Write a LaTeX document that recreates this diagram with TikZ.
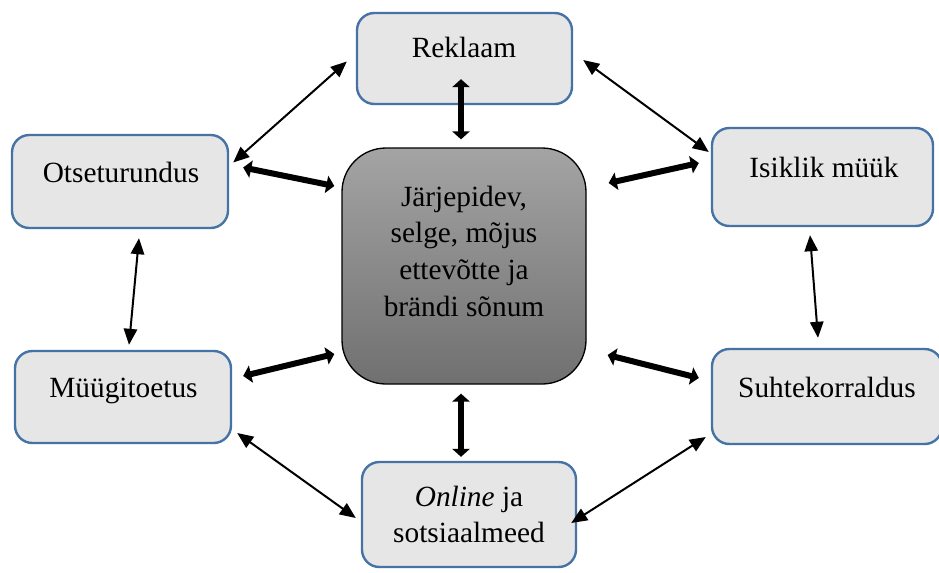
\documentclass[tikz,border=0pt]{standalone}
\usepackage{fontspec}
\setmainfont{Liberation Serif}
\usetikzlibrary{arrows.meta,calc}
\definecolor{boxfill}{RGB}{230,230,230}
\definecolor{boxline}{RGB}{70,115,165}
\definecolor{midtop}{RGB}{164,164,164}
\definecolor{midbot}{RGB}{112,112,112}
\tikzset{
  box/.style={draw=boxline, fill=boxfill, line width=1.8pt, rounded corners=13pt, inner sep=0pt},
  lbl/.style={font=\fontsize{22}{27.5}\selectfont, align=center, inner sep=0pt},
  thinarrow/.style={line width=1.5pt, {Triangle[length=12pt,width=10pt]}-{Triangle[length=12pt,width=10pt]}},
  fatarrow/.style={line width=4.5pt, {Triangle[length=6pt,width=13pt]}-{Triangle[length=6pt,width=13pt]}}
}
\begin{document}
\begin{tikzpicture}[x=0.75pt,y=-0.75pt]
\useasboundingbox (0,0) rectangle (939,572);
% outer boxes
\node[box, minimum width=161.25pt, minimum height=68.25pt] (rek) at (464.5,58.5) {};
\node[box, minimum width=162pt, minimum height=69.75pt] (ots) at (120,181.5) {};
\node[box, minimum width=165.75pt, minimum height=73.5pt] (isi) at (822.5,177) {};
\node[box, minimum width=162pt, minimum height=69pt] (mug) at (123,397) {};
\node[box, minimum width=172.5pt, minimum height=71.25pt] (suh) at (827,396.5) {};
\node[box, minimum width=160.5pt, minimum height=78.75pt] (onl) at (469,514.5) {};
% middle box
\node[draw=black, line width=1pt, rounded corners=33pt, top color=midtop, bottom color=midbot,
      minimum width=183pt, minimum height=177pt] (ctr) at (464,266) {};

\node[lbl, anchor=base] (rekt) at (464,57) {Reklaam};
\node[lbl, anchor=base] (otst) at (121,182) {Otseturundus};
\node[lbl, anchor=base] (isit) at (824,177) {Isiklik müük};
\node[lbl, anchor=base] (mugt) at (123.5,397) {Müügitoetus};
\node[lbl, anchor=base] (suht) at (827,397) {Suhtekorraldus};
\node[lbl] (onlt) at (469,514.5) {\textit{Online} ja\\sotsiaalmeed};
\node[lbl] (ctrt) at (464,251) {Järjepidev,\\selge, mõjus\\ettevõtte ja\\brändi sõnum};

% to and from the middle
\draw[fatarrow] ($(rek.south)+(-3.5,-26)$) -- ($(ctr.north)+(-3,-8)$);
\draw[fatarrow] ($(ctr.west)+(-7,-80)$) -- ($(ots.east)+(14,-14)$);
\draw[fatarrow] ($(ctr.east)+(22,-83)$) -- ($(isi.west)+(-12,-14)$);
\draw[fatarrow] ($(ctr.west)+(-7,88)$) -- ($(mug.east)+(11,-21)$);
\draw[fatarrow] ($(ctr.east)+(21,89)$) -- ($(suh.west)+(-12,-18.5)$);
\draw[fatarrow] ($(ctr.south)+(-3,9)$) -- ($(onl.north)+(-8,-4)$);
% round the ring
\draw[thinarrow] ($(rek.west)+(-9,3)$) -- ($(ots.east)+(4,-19)$);
\draw[thinarrow] ($(rek.east)+(10,1.5)$) -- ($(isi.west)+(-2,-25)$);
\draw[thinarrow] ($(ots.south)+(19,9)$) -- ($(mug.north)+(6,-5)$);
\draw[thinarrow] ($(isi.south)+(-12.5,8)$) -- ($(suh.north)+(-9,-10)$);
\draw[thinarrow] ($(mug.east)+(5,36)$) -- ($(onl.west)+(-5,3.5)$);
\draw[thinarrow] ($(onl.east)+(-6,8.5)$) -- ($(suh.west)+(-5,40.5)$);
\end{tikzpicture}
\end{document}
